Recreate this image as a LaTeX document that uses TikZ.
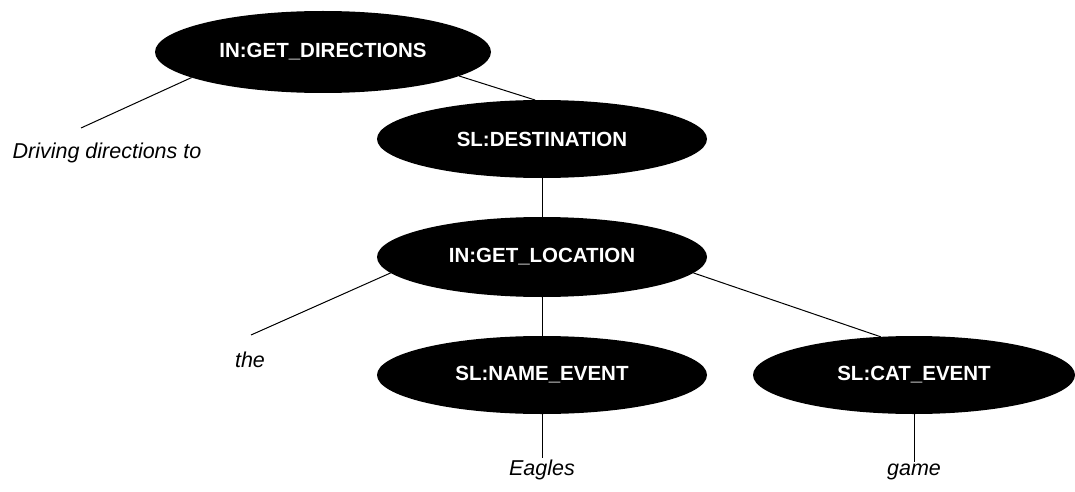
\documentclass[tikz,border=0pt]{standalone}
\usepackage{fontspec}
\setmainfont{Liberation Sans}
\usetikzlibrary{shapes.geometric}

\tikzset{
  tag/.style={ellipse, fill=black, text=white, inner sep=0pt, outer sep=0pt,
              font=\fontsize{20.5}{24}\selectfont\bfseries},
  word/.style={inner sep=1pt, outer sep=0pt, font=\fontsize{21.5}{24}\selectfont\itshape},
  branch/.style={line width=1pt, black}
}

\begin{document}
\begin{tikzpicture}[x=1pt, y=-1pt]
  \useasboundingbox (0,0) rectangle (1075,492);

  % parse tree nodes
  \node[tag, minimum width=336pt, minimum height=82pt] (dir)  at (323,52)  {IN:GET\_DIRECTIONS};
  \node[tag, minimum width=330pt, minimum height=78pt] (dest) at (542,139) {SL:DESTINATION};
  \node[tag, minimum width=330pt, minimum height=80pt] (loc)  at (542,257) {IN:GET\_LOCATION};
  \node[tag, minimum width=330pt, minimum height=78pt] (name) at (542,375) {SL:NAME\_EVENT};
  \node[tag, minimum width=322pt, minimum height=78pt] (cat)  at (914,375) {SL:CAT\_EVENT};

  % leaf tokens
  \node[word, anchor=base] (drive)  at (107,158) {Driving directions to};
  \node[word, anchor=base] (the)    at (250,367) {the};
  \node[word, anchor=base] (eagles) at (542,475) {Eagles};
  \node[word, anchor=base] (game)   at (914,475) {game};

  % free ends of the slanted leaf branches
  \coordinate (driveTop) at (81,128);
  \coordinate (theTop)   at (251,335);

  % branches
  \draw[branch] (dir.191.3) -- (driveTop);
  \draw[branch] (dir.-10.6) -- (dest.100.2);
  \draw[branch] (dest) -- (loc);
  \draw[branch] (loc.186.9) -- (theTop);
  \draw[branch] (loc) -- (name);
  \draw[branch] (loc.-6.9) -- (cat.131.7);
  \draw[branch] (name.south) -- (eagles.north);
  \draw[branch] (cat.south) -- (game.north);
\end{tikzpicture}
\end{document}
